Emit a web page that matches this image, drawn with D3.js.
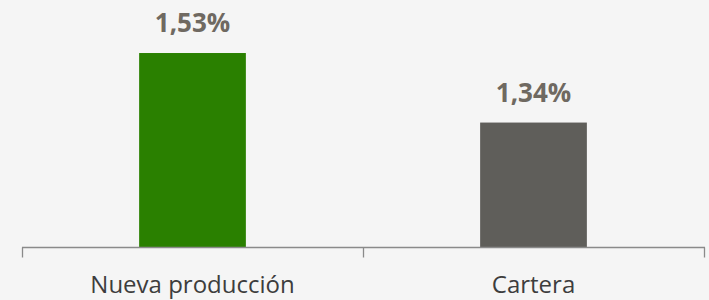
<!doctype html>
<html>
	<head>
		<meta charset="UTF-8">
		<script src="https://d3js.org/d3.v7.min.js"></script>
		<style>
			html, body { margin: 0; padding: 0; background: #f5f5f5; }
			svg { display: block; }
		</style>
	</head>
	<body>
		<script>
			// datos del gráfico
			const categorias = ["Nueva producción", "Cartera"];
			const valores = [1.53, 1.34];
			const colores = ["#2a8000", "#5f5e5a"];

			const width = 709, height = 300;
			const margin = { top: 27, bottom: 53, left: 22, right: 5 };
			const baseY = height - margin.bottom;

			const svg = d3.select("body").append("svg")
				.attr("width", width)
				.attr("height", height);

			const xScale = d3.scaleBand()
				.domain(categorias)
				.range([margin.left, width - margin.right])
				.paddingInner(0.687)
				.paddingOuter(0.3435);

			const yScale = d3.scaleLinear()
				.domain([1.0, 1.6])
				.range([baseY, baseY - 0.6 * 366]);

			const fmt = v => d3.format(".2f")(v).replace(".", ",") + "%";

			svg.selectAll("rect.bar")
				.data(valores)
				.enter().append("rect")
				.attr("class", "bar")
				.attr("x", (d, i) => xScale(categorias[i]))
				.attr("width", xScale.bandwidth())
				.attr("y", d => yScale(d))
				.attr("height", d => baseY - yScale(d))
				.attr("fill", (d, i) => colores[i]);

			svg.selectAll("text.valor")
				.data(valores)
				.enter().append("text")
				.attr("class", "valor")
				.attr("x", (d, i) => xScale(categorias[i]) + xScale.bandwidth() / 2)
				.attr("y", d => yScale(d) - 21)
				.attr("text-anchor", "middle")
				.attr("font-family", "'Open Sans', sans-serif")
				.attr("font-weight", "bold")
				.attr("font-size", "26px")
				.attr("fill", "#6f6961")
				.text(d => fmt(d));

			// eje x
			const xAxis = d3.axisBottom(xScale).tickSize(0).tickPadding(0);
			const gx = svg.append("g")
				.attr("transform", "translate(0," + (baseY + 0.5) + ")")
				.call(xAxis);
			gx.select(".domain").remove();
			gx.selectAll("text")
				.attr("dy", null)
				.attr("y", 45)
				.attr("font-family", "'Open Sans', sans-serif")
				.attr("font-size", "24px")
				.attr("fill", "#3d3d3d");

			const r = xScale.range();
			gx.append("line")
				.attr("x1", r[0]).attr("x2", r[1] + 1)
				.attr("stroke", "#8a8a8a")
				.attr("stroke-width", 1.3);

			const bordes = [r[0]].concat(categorias.map(c => xScale(c) - xScale.step() * xScale.paddingInner() / 2 + xScale.step()));
			gx.selectAll("line.tick-borde")
				.data(bordes)
				.enter().append("line")
				.attr("class", "tick-borde")
				.attr("x1", d => Math.round(d) + 0.5)
				.attr("x2", d => Math.round(d) + 0.5)
				.attr("y1", 0)
				.attr("y2", 10)
				.attr("stroke", "#8a8a8a")
				.attr("stroke-width", 1.3);
		</script>
	</body>
</html>
